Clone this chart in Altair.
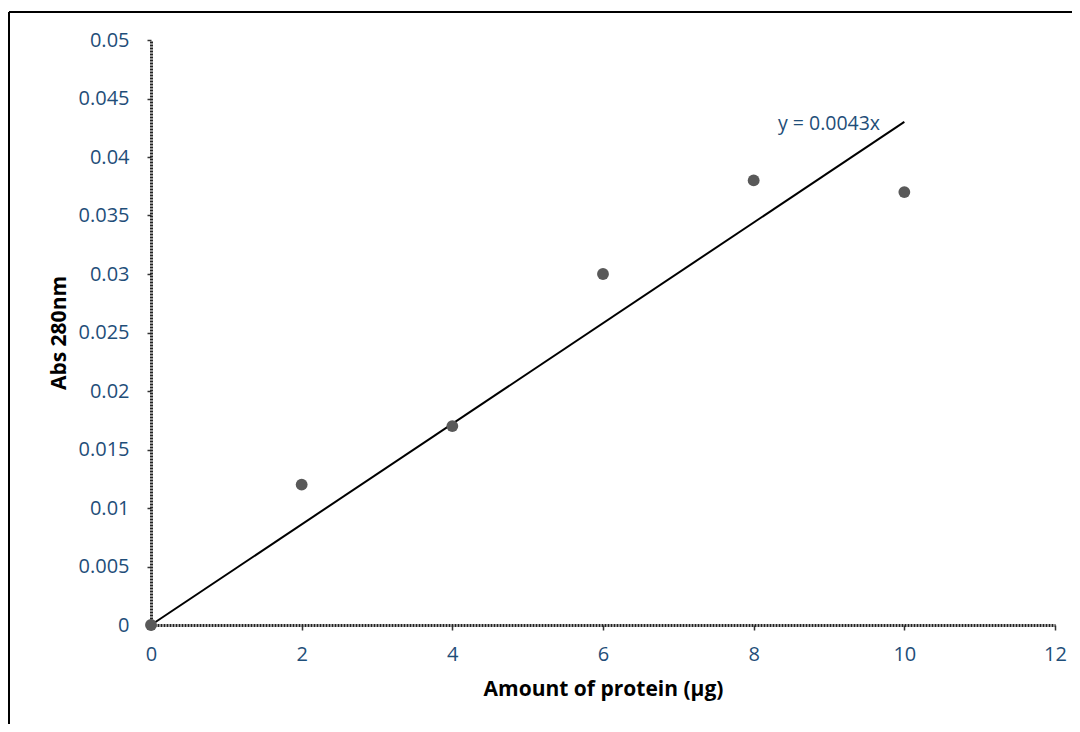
import altair as alt
import pandas as pd

protein = [0, 2, 4, 6, 8, 10]
absorbance = [0.0, 0.012, 0.017, 0.030, 0.038, 0.037]
slope = 0.0043
trend_x = [0, 10]
x_ticks = [0, 2, 4, 6, 8, 10, 12]
y_ticks = [0, 0.005, 0.01, 0.015, 0.02, 0.025, 0.03, 0.035, 0.04, 0.045, 0.05]
equation = "y = 0.0043x"

LABEL = "#1F4E79"
FONT = "Open Sans"

pts = pd.DataFrame({"x": protein, "y": absorbance})
trend = pd.DataFrame({"x": trend_x, "y": [slope * v for v in trend_x]})
eq = pd.DataFrame({"x": [9.0], "y": [0.0428], "t": [equation]})

xs = alt.Scale(domain=[0, 12], nice=False, zero=False)
ys = alt.Scale(domain=[0, 0.05], nice=False)

x_axis = alt.Axis(values=x_ticks, format="~g", title="Amount of protein (µg)", grid=False,
                  labelPadding=14, titlePadding=14, tickSize=5, labelFlush=False)
y_axis = alt.Axis(values=y_ticks, format="~g", title="Abs 280nm", grid=False,
                  labelPadding=18, titlePadding=9, tickSize=4, labelFlush=False)

X = alt.X("x:Q", scale=xs, axis=x_axis)
Y = alt.Y("y:Q", scale=ys, axis=y_axis)

line = alt.Chart(trend).mark_line(color="black", strokeWidth=2).encode(x=X, y=Y)
points = alt.Chart(pts).mark_circle(size=140, color="#595959", opacity=1).encode(x=X, y=Y)
text = alt.Chart(eq).mark_text(fontSize=19.5, font=FONT, color=LABEL, align="center",
                               baseline="middle").encode(x=X, y=Y, text="t:N")
frame_left = alt.Chart(pts).mark_rule(color="black", strokeWidth=1.5).encode(
    x=alt.value(-142), y=alt.value(-28), y2=alt.value(720)
)
frame_top = alt.Chart(pts).mark_rule(color="black", strokeWidth=1.5).encode(
    x=alt.value(-142), x2=alt.value(1000), y=alt.value(-28)
)

chart = alt.layer(frame_left, frame_top, line, points, text).properties(
    width=904, height=585,
    autosize=alt.AutoSizeParams(type="none"),
    padding={"left": 143, "top": 32, "right": 17, "bottom": 99},
    background="white",
).configure_view(stroke=None).configure_axis(
    grid=False,
    labelColor=LABEL, labelFontSize=20, labelFont=FONT,
    titleFontSize=21, titleFont=FONT, titleFontWeight="bold", titleColor="black",
    tickColor="#333", tickWidth=1.5,
    domainColor="#222", domainWidth=3, domainDash=[2, 1],
)

chart.save("out.html", embed_options={"renderer": "svg", "actions": False})
